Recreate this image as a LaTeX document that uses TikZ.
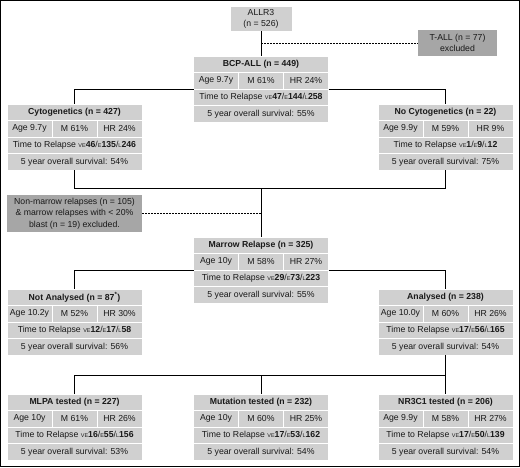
\documentclass[tikz,border=0pt]{standalone}
\usepackage{fontspec}
\setmainfont{Liberation Sans}
\usetikzlibrary{positioning}
\definecolor{BoxGrey}{RGB}{208,208,208}
\definecolor{ExclGrey}{RGB}{166,166,166}
\definecolor{InkGrey}{RGB}{25,25,25}

% small letters before the relapse counts
\newcommand{\tinylab}[1]{{\fontsize{5.5}{6}\selectfont #1}}
\newcommand{\ttrtext}[3]{Time to Relapse \tinylab{VE}\textbf{#1}/\tinylab{E}\textbf{#2}/\tinylab{L}\textbf{#3}}

% one summary box: header, three cells, relapse row, survival row
\newcommand{\statbox}[8]{%
  \node[head] (#1) at (#2) {#3};
  \node[cell,below right=0pt and 0pt of #1.south west] (#1-age) {Age #4};
  \node[cell,right=0pt of #1-age] (#1-m) {M #5};
  \node[cell,right=0pt of #1-m] (#1-hr) {HR #6};
  \node[wide,below right=0pt and 0pt of #1-age.south west] (#1-ttr) {#7};
  \node[wide,below=0pt of #1-ttr] (#1-os) {5 year overall survival: #8};
}

\begin{document}
\begin{tikzpicture}[x=1pt,y=-1pt,
      font=\fontsize{8.7}{10.5}\selectfont,text=InkGrey,
      cellbase/.style={fill=BoxGrey,draw=white,line width=1pt,inner sep=0pt,
                       outer sep=0pt,minimum height=16.5pt},
      head/.style={cellbase,minimum width=135pt,anchor=north,
                   font=\fontsize{8.7}{10.5}\selectfont\bfseries},
      cell/.style={cellbase,minimum width=45pt},
      wide/.style={cellbase,minimum width=135pt},
      note/.style={inner sep=0pt,outer sep=0pt,align=center,
                   font=\fontsize{8.7}{11.5}\selectfont},
      link/.style={line width=1pt,draw=black},
      skip/.style={link,dash pattern=on 2pt off 1pt}]
    \useasboundingbox (0,0) rectangle (520,467);
    \draw[line width=1pt] (0.5,0.5) rectangle (519.5,466.5);

    \node[note,fill=BoxGrey,minimum width=61pt,minimum height=24pt] (allr3) at (261,19) {ALLR3\\(n = 526)};
    \node[note,fill=ExclGrey,minimum width=79pt,minimum height=26pt] (tall) at (457.5,43) {T-ALL (n = 77)\\excluded};

    \statbox{bcp}{261,56}{BCP-ALL (n = 449)}{9.7y}{61\%}{24\%}{\ttrtext{47}{144}{258}}{55\%}
    \statbox{cyto}{74.5,104}{Cytogenetics (n = 427)}{9.7y}{61\%}{24\%}{\ttrtext{46}{135}{246}}{54\%}
    \statbox{nocyto}{445.5,104}{No Cytogenetics (n = 22)}{9.9y}{59\%}{9\%}{\ttrtext{1}{9}{12}}{75\%}

    \node[note,fill=ExclGrey,minimum width=135pt,minimum height=37pt] (nonmarrow) at (74.5,213.5)
      {Non-marrow relapses (n = 105)\\\& marrow relapses with < 20\%\\blast (n = 19) excluded.};

    \statbox{marrow}{261,237}{Marrow Relapse (n = 325)}{10y}{58\%}{27\%}{\ttrtext{29}{73}{223}}{55\%}
    \statbox{notan}{74.5,289}{Not Analysed (n = 87\textsuperscript{*})}{10.2y}{52\%}{30\%}{\ttrtext{12}{17}{58}}{56\%}
    \statbox{anal}{445.5,289}{Analysed (n = 238)}{10.0y}{60\%}{26\%}{\ttrtext{17}{56}{165}}{54\%}

    \statbox{mlpa}{74.5,394}{MLPA tested (n = 227)}{10y}{61\%}{26\%}{\ttrtext{16}{55}{156}}{53\%}
    \statbox{mut}{261,394}{Mutation tested (n = 232)}{10y}{60\%}{25\%}{\ttrtext{17}{53}{162}}{54\%}
    \statbox{nr3c1}{445.5,394}{NR3C1 tested (n = 206)}{9.9y}{58\%}{27\%}{\ttrtext{17}{50}{139}}{54\%}

    \coordinate (join1) at (261,188);
    \coordinate (join2) at (261,375);

    \draw[link] (allr3) -- (bcp);
    \draw[skip] (allr3.south |- tall.west) -- (tall.west);
    \draw[link] (bcp-age.south west) -| (cyto.north);
    \draw[link] (bcp-hr.south east) -| (nocyto.north);
    \draw[link] (cyto-os.south) |- (join1) -- (marrow.north);
    \draw[link] (nocyto-os.south) |- (join1);
    \draw[skip] (nonmarrow.east) -- (nonmarrow.east -| join1);
    \draw[link] (marrow-age.south west) -| (notan.north);
    \draw[link] (marrow-hr.south east) -| (anal.north);
    \draw[link] (anal-os.south) -- (nr3c1.north);
    \draw[link] (mlpa.north) |- (join2) -- (mut.north);
    \draw[link] (join2) -- (anal-os.south |- join2);
  \end{tikzpicture}
\end{document}
